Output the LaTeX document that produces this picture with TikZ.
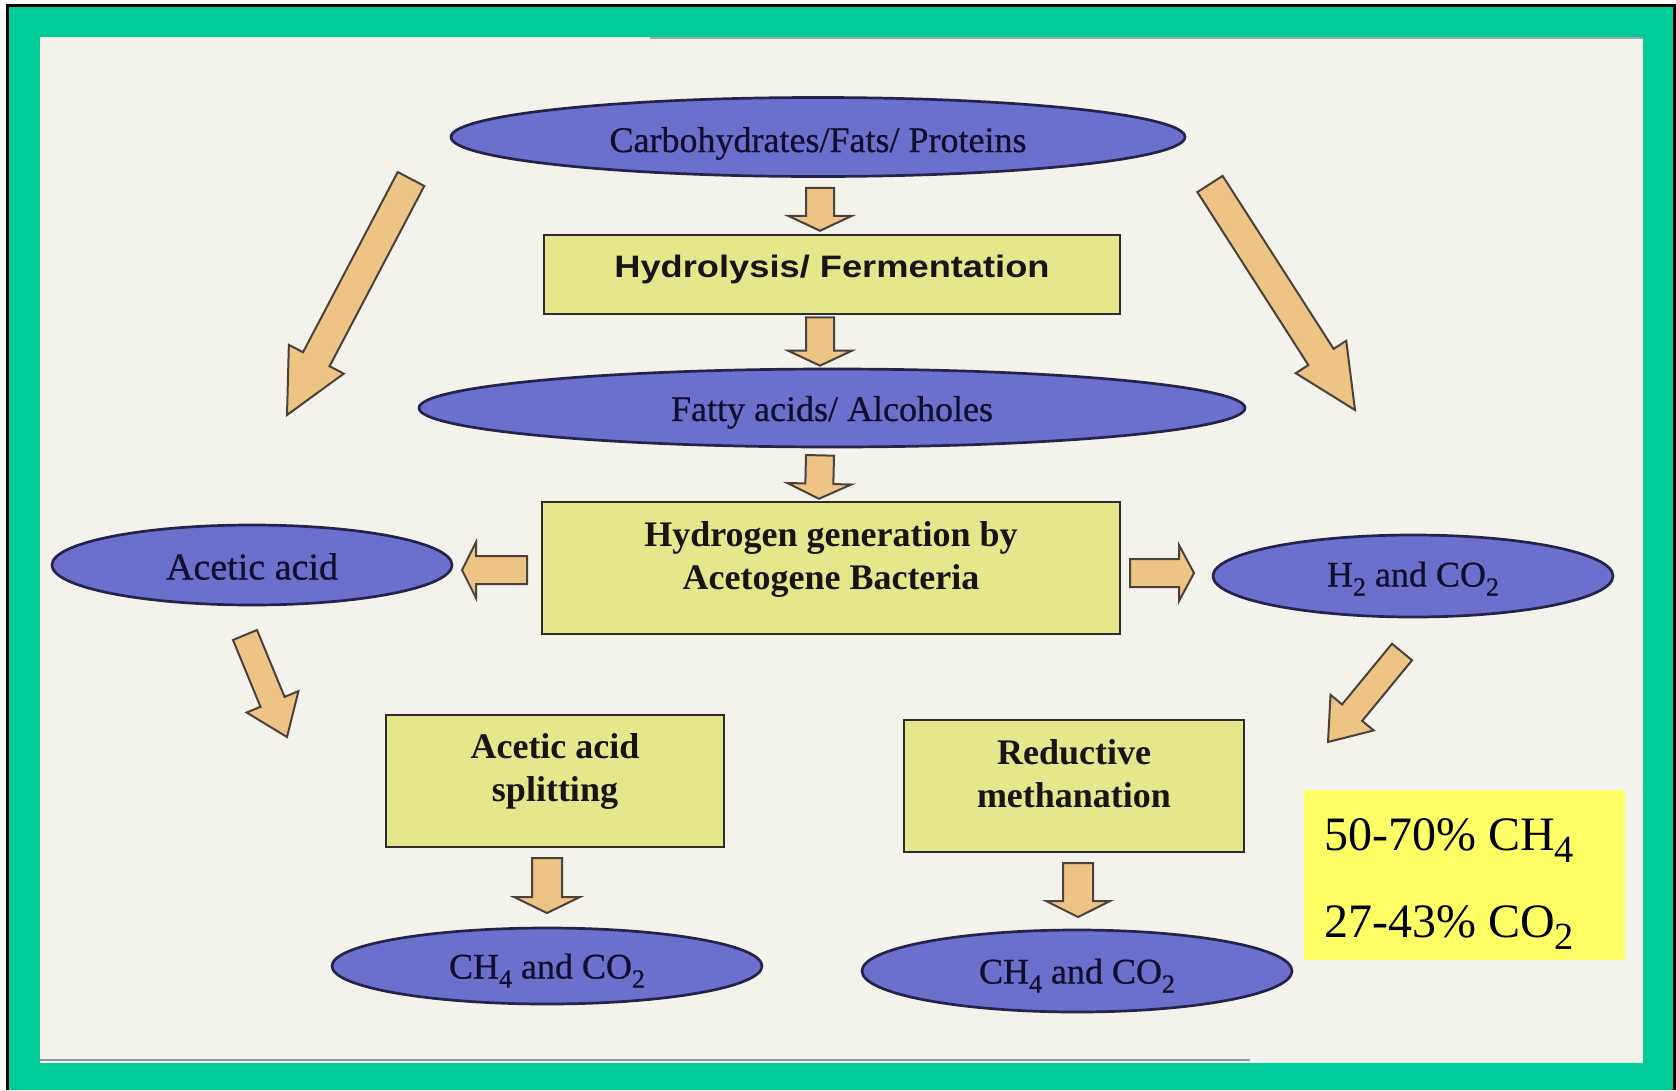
\documentclass[tikz,border=0pt]{standalone}
\usepackage{fontspec}
\usepackage{graphicx}
\setmainfont{Liberation Serif}
\newfontfamily\arialfont{Liberation Sans}
\newfontfamily\ellfont[FakeBold=0.7]{Liberation Serif}
\usetikzlibrary{shapes.geometric,calc}
\definecolor{framegreen}{RGB}{0,204,153}
\definecolor{panelbg}{RGB}{243,243,236}
\definecolor{ellfill}{RGB}{108,112,204}
\definecolor{ellline}{RGB}{35,35,75}
\definecolor{elltext}{RGB}{15,15,45}
\definecolor{boxfill}{RGB}{228,231,140}
\definecolor{boxline}{RGB}{45,45,45}
\definecolor{boxtext}{RGB}{25,20,20}
\definecolor{arrfill}{RGB}{238,196,132}
\definecolor{arrline}{RGB}{75,65,60}
\definecolor{notebg}{RGB}{255,255,102}
\newcommand\lowsub[1]{\raisebox{-0.25em}{\scalebox{0.72}{#1}}}
\newcommand\notesub[1]{\raisebox{-0.25em}{\scalebox{0.8}{#1}}}
% block arrow: tail, tip, half shaft, half head, head length
\newcommand\blockarrow[5]{%
  \coordinate (ba-n) at ($(#2)!#5!(#1)$);
  \draw[blockarr] ($(#1)!#3!90:(#2)$) -- ($(ba-n)!#3!90:(#2)$) -- ($(ba-n)!#4!90:(#2)$)
    -- (#2) -- ($(ba-n)!#4!-90:(#2)$) -- ($(ba-n)!#3!-90:(#2)$) -- ($(#1)!#3!-90:(#2)$) -- cycle;}
\tikzset{
  ell/.style={ellipse, draw=ellline, line width=2.7pt, fill=ellfill, inner sep=0pt,
    text=elltext, font=\ellfont\fontsize{36}{40}\selectfont},
  procbox/.style={rectangle, draw=boxline, line width=2.5pt, fill=boxfill, inner sep=0pt,
    align=center, text=boxtext, font=\bfseries\fontsize{36}{43}\selectfont},
  blockarr/.style={draw=arrline, fill=arrfill, line width=2pt, line join=miter},
  notetext/.style={anchor=base west, inner sep=0pt, font=\fontsize{48}{52}\selectfont, text=black}
}
\begin{document}
\begin{tikzpicture}[x=1pt,y=-1pt]
\useasboundingbox (0,0) rectangle (1676,1090);
\fill[white] (0,0) rectangle (1676,1090);
\fill[framegreen] (7,5) rectangle (1676,1090);
\draw[black, line width=3pt] (7,1090) -- (7,5) -- (1674,5) -- (1674,1090);
\fill[panelbg] (40,37) rectangle (1643,1063);
\draw[gray!70, line width=2pt] (650,38) -- (1643,38);
\draw[gray!80, line width=2pt] (40,1060) -- (1250,1060);

% ellipses
\node[ell, minimum width=734pt, minimum height=79pt, text height=38pt, text depth=8pt] (carb) at (818,137) {Carbohydrates/Fats/ Proteins};
\node[ell, minimum width=826pt, minimum height=78pt, text height=34pt, text depth=8pt] (fatty) at (832,408) {Fatty acids/ Alcoholes};
\node[ell, minimum width=400pt, minimum height=80pt, font=\ellfont\fontsize{38}{40}\selectfont, text height=30pt, text depth=1pt] (acetic) at (252,565) {Acetic acid};
\node[ell, minimum width=400pt, minimum height=82pt, text height=30pt, text depth=9pt] (htwo) at (1413,576) {H\lowsub{2} and CO\lowsub{2}};
\node[ell, minimum width=430pt, minimum height=76pt, text height=34pt, text depth=9pt] (chl) at (547,966) {CH\lowsub{4} and CO\lowsub{2}};
\node[ell, minimum width=430pt, minimum height=82pt, text height=34pt, text depth=9pt] (chr) at (1077,971) {CH\lowsub{4} and CO\lowsub{2}};

% boxes
\node[procbox, minimum width=576pt, minimum height=79pt, text height=20pt, text depth=15pt,
  font=\arialfont\bfseries\fontsize{31}{36}\selectfont] (hydro) at (832,274.5)
  {\scalebox{1.17}[1]{Hydrolysis/ Fermentation}};
\node[procbox, minimum width=578pt, minimum height=132pt, text height=50pt, text depth=8pt] (hgen) at (831,568)
  {Hydrogen generation by\\Acetogene Bacteria};
\node[procbox, minimum width=338pt, minimum height=132pt, text height=48pt, text depth=8pt] (split) at (555,781)
  {Acetic acid\\splitting};
\node[procbox, minimum width=340pt, minimum height=132pt, text height=50pt, text depth=8pt] (redu) at (1074,786)
  {Reductive\\methanation};

% note
\node[fill=notebg, minimum width=321pt, minimum height=170pt, inner sep=0pt] (note) at (1464.5,875) {};
\node[notetext] (noteA) at (1324,850) {50-70\% CH\notesub{4}};
\node[notetext] (noteB) at (1324,937) {27-43\% CO\notesub{2}};

% arrow end points
\coordinate (v1t) at ($(carb.south)+(2,10)$);   \coordinate (v1h) at ($(hydro.north)+(-12,-3)$);
\coordinate (v2t) at ($(hydro.south)+(-12,2)$); \coordinate (v2h) at ($(fatty.north)+(-12,-2)$);
\coordinate (v3t) at ($(fatty.south)+(-12,7)$); \coordinate (v3h) at ($(hgen.north)+(-12,-2)$);
\coordinate (hlt) at (527,570); \coordinate (hlh) at (462,570);
\coordinate (hrt) at (1130,573); \coordinate (hrh) at (1194,573);
\coordinate (blt) at (411,179); \coordinate (blh) at (287,415);
\coordinate (brt) at (1210,184); \coordinate (brh) at (1355,410);
\coordinate (slt) at (245,635); \coordinate (slh) at (287,737);
\coordinate (srt) at (1402,652); \coordinate (srh) at (1328,742);
\coordinate (bvlt) at (547,858); \coordinate (bvlh) at (547,913);
\coordinate (bvrt) at (1078,863); \coordinate (bvrh) at (1078,917);

\blockarrow{v1t}{v1h}{14pt}{32pt}{15pt}
\blockarrow{v2t}{v2h}{14pt}{32pt}{15pt}
\blockarrow{v3t}{v3h}{14pt}{32pt}{15pt}
\blockarrow{hlt}{hlh}{14pt}{28pt}{14pt}
\blockarrow{hrt}{hrh}{14pt}{28pt}{15pt}
\blockarrow{blt}{blh}{15pt}{31pt}{63pt}
\blockarrow{brt}{brh}{15pt}{30pt}{63pt}
\blockarrow{slt}{slh}{13pt}{28pt}{38pt}
\blockarrow{srt}{srh}{13pt}{28pt}{38pt}
\blockarrow{bvlt}{bvlh}{15pt}{33pt}{16pt}
\blockarrow{bvrt}{bvrh}{15pt}{32pt}{16pt}
\end{tikzpicture}
\end{document}
